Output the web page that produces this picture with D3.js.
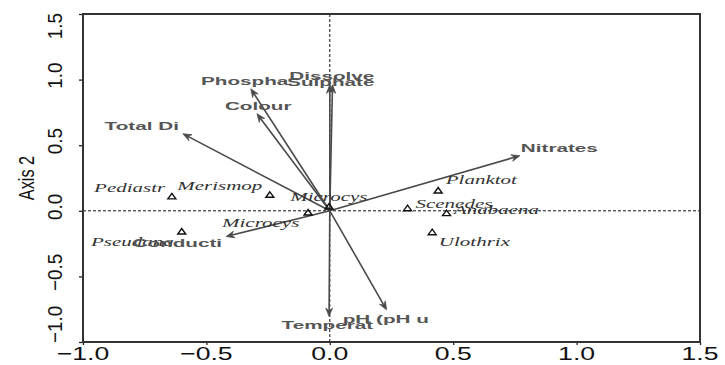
<!DOCTYPE html>
<html><head><meta charset="utf-8">
<script src="https://cdn.jsdelivr.net/npm/d3@7"></script>
<style>body{margin:0;background:#fff}svg{display:block}</style>
</head><body>
<script>
// ---- data ----
const xTicks = [-1.0, -0.5, 0.0, 0.5, 1.0, 1.5];
const yTicks = [-1.0, -0.5, 0.0, 0.5, 1.0, 1.5];
const xTickLabels = ["\u22121.0", "\u22120.5", "0.0", "0.5", "1.0", "1.5"];
const yTickLabels = ["\u22121.0", "\u22120.5", "0.0", "0.5", "1.0", "1.5"];
const yTitle = "Axis 2";

const envNames = ["Total Di", "Phospha", "Dissolve", "Sulphate", "Colour", "Nitrates", "Conducti", "Temperat", "pH (pH u"];
const envX = [-0.595, -0.32, 0.0, 0.011, -0.295, 0.77, -0.42, -0.003, 0.23];
const envY = [0.587, 0.93, 0.96, 0.96, 0.74, 0.42, -0.196, -0.805, -0.755];
const envLabelX = [-0.762, -0.345, 0.008, 0.004, -0.29, 0.93, -0.618, -0.01, 0.227];
const envLabelY = [0.648, 0.991, 1.031, 0.983, 0.80, 0.48, -0.244, -0.869, -0.823];

const spNames = ["Pediastr", "Merismop", "Microcys", "Microcys", "Pseudana", "Planktot", "Scenedes", "Anabaena", "Ulothrix"];
const spX = [-0.64, -0.243, -0.003, -0.088, -0.60, 0.439, 0.315, 0.473, 0.415];
const spY = [0.11, 0.122, 0.033, -0.013, -0.158, 0.155, 0.02, -0.018, -0.163];
const spLabelX = [-0.811, -0.446, -0.004, -0.28, -0.80, 0.614, 0.503, 0.675, 0.586];
const spLabelY = [0.178, 0.19, 0.109, -0.089, -0.234, 0.236, 0.051, 0.008, -0.234];

// ---- chart ----
const W = 725, H = 365;
const svg = d3.select("body").append("svg").attr("width", W).attr("height", H);
const x = d3.scaleLinear().domain([-1, 1.5]).range([83, 700]);
const y = d3.scaleLinear().domain([-1, 1.5]).range([342, 14]);

// dashed reference lines
svg.append("line").attr("x1", x(-1)).attr("x2", x(1.5)).attr("y1", y(0)).attr("y2", y(0))
  .attr("stroke", "#111").attr("stroke-width", 1).attr("stroke-dasharray", "3,2");
svg.append("line").attr("x1", x(0)).attr("x2", x(0)).attr("y1", y(-1)).attr("y2", y(1.5))
  .attr("stroke", "#111").attr("stroke-width", 1).attr("stroke-dasharray", "3,2");

// axes
const xAxis = d3.axisBottom(x).tickValues(xTicks).tickSize(3).tickFormat("");
const yAxis = d3.axisLeft(y).tickValues(yTicks).tickSize(4).tickFormat("");
const gx = svg.append("g").attr("transform", `translate(0,${y(-1)})`).call(xAxis);
const gy = svg.append("g").attr("transform", `translate(${x(-1)},0)`).call(yAxis);
[gx, gy].forEach(g => { g.select(".domain").remove(); g.selectAll("line").attr("stroke", "#222").attr("stroke-width", 1.3); });

// box
svg.append("rect").attr("x", x(-1)).attr("y", y(1.5)).attr("width", x(1.5) - x(-1)).attr("height", y(-1) - y(1.5))
  .attr("fill", "none").attr("stroke", "#333").attr("stroke-width", 2);

// x tick labels
xTicks.forEach((t, i) => {
  svg.append("text").attr("transform", `translate(${x(t)},360) scale(1.44,1)`)
    .attr("text-anchor", "middle").attr("font-family", "Liberation Sans, Arial, sans-serif")
    .attr("font-size", 18.5).attr("fill", "#111").text(xTickLabels[i]);
});
// y tick labels (end labels kept inside the axis span)
const yDom = y.domain();
yTicks.forEach((t, i) => {
  const isTop = t === yDom[1], isBot = t === yDom[0];
  const anchor = isTop ? "end" : (isBot ? "start" : "middle");
  const yy = isTop ? y(t) - 1 : (isBot ? y(t) + 1 : y(t) - 4);
  svg.append("text").attr("transform", `translate(62,${yy}) rotate(-90) scale(0.92,1.02)`)
    .attr("text-anchor", anchor).attr("font-family", "Liberation Sans, Arial, sans-serif")
    .attr("font-size", 20.5).attr("fill", "#111").text(yTickLabels[i]);
});
// y title
svg.append("text").attr("transform", `translate(33.5,${(y(-1) + y(1.5)) / 2}) rotate(-90) scale(0.74,1)`)
  .attr("text-anchor", "middle").attr("font-family", "Liberation Sans, Arial, sans-serif")
  .attr("font-size", 22).attr("fill", "#111").text(yTitle);

// environmental arrows
const arrowCol = "#4a4a4a";
envNames.forEach((n, i) => {
  const x0 = x(0), y0 = y(0), x1 = x(envX[i]), y1 = y(envY[i]);
  const ang = Math.atan2(y1 - y0, x1 - x0);
  const L = 9, a = 0.38;
  svg.append("line").attr("x1", x0).attr("y1", y0).attr("x2", x1 - Math.cos(ang) * 4).attr("y2", y1 - Math.sin(ang) * 4)
    .attr("stroke", arrowCol).attr("stroke-width", 1.6);
  const p1 = [x1 - L * Math.cos(ang - a), y1 - L * Math.sin(ang - a)];
  const p2 = [x1 - L * Math.cos(ang + a), y1 - L * Math.sin(ang + a)];
  const pm = [x1 - L * 0.6 * Math.cos(ang), y1 - L * 0.6 * Math.sin(ang)];
  svg.append("path").attr("d", `M${x1},${y1}L${p1[0]},${p1[1]}L${pm[0]},${pm[1]}L${p2[0]},${p2[1]}Z`)
    .attr("fill", arrowCol).attr("stroke", arrowCol).attr("stroke-width", 0.8);
});

// species triangles
spNames.forEach((n, i) => {
  const cx = x(spX[i]), cy = y(spY[i]);
  svg.append("path").attr("d", `M${cx},${cy - 3}L${cx + 4},${cy + 2.5}L${cx - 4},${cy + 2.5}Z`)
    .attr("fill", "none").attr("stroke", "#111").attr("stroke-width", 1.4);
});

// species labels
spNames.forEach((n, i) => {
  svg.append("text").attr("transform", `translate(${x(spLabelX[i])},${y(spLabelY[i])}) scale(1.75,1)`)
    .attr("text-anchor", "middle").attr("dy", "0.35em")
    .attr("font-family", "Liberation Serif, Times New Roman, serif").attr("font-style", "italic")
    .attr("font-size", 12).attr("fill", "#333").text(n);
});

// env labels
envNames.forEach((n, i) => {
  svg.append("text").attr("transform", `translate(${x(envLabelX[i])},${y(envLabelY[i])}) scale(1.8,1)`)
    .attr("text-anchor", "middle").attr("dy", "0.36em")
    .attr("font-family", "Liberation Sans, Arial, sans-serif").attr("font-weight", "bold")
    .attr("font-size", 11.5).attr("fill", "#555").text(n);
});
</script>
</body></html>
